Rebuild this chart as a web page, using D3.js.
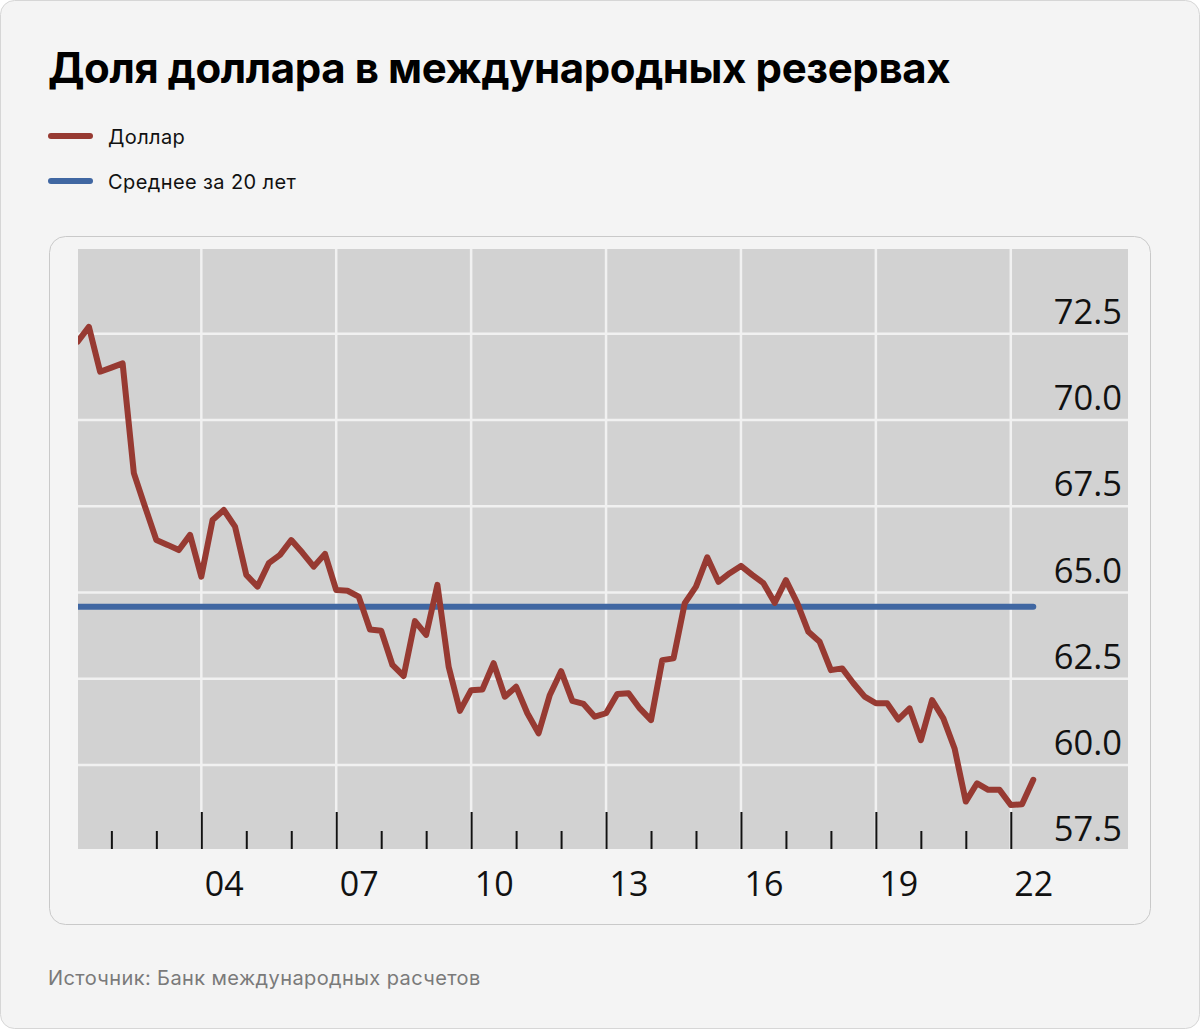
<!DOCTYPE html>
<html lang="ru">
<head>
<meta charset="utf-8">
<script src="https://cdn.jsdelivr.net/npm/d3@7"></script>
<style>
  html, body { margin: 0; padding: 0; background: #ffffff; }
  svg { display: block; }
</style>
</head>
<body>
<svg id="chart" width="1200" height="1029"></svg>
<script>
// ---------- DATA ----------
const title = "Доля доллара в международных резервах";
const seriesNames = ["Доллар", "Среднее за 20 лет"];
const source = "Источник: Банк международных расчетов";

const quarters = [
  "2001Q2","2001Q3","2001Q4",
  "2002Q1","2002Q2","2002Q3","2002Q4",
  "2003Q1","2003Q2","2003Q3","2003Q4",
  "2004Q1","2004Q2","2004Q3","2004Q4",
  "2005Q1","2005Q2","2005Q3","2005Q4",
  "2006Q1","2006Q2","2006Q3","2006Q4",
  "2007Q1","2007Q2","2007Q3","2007Q4",
  "2008Q1","2008Q2","2008Q3","2008Q4",
  "2009Q1","2009Q2","2009Q3","2009Q4",
  "2010Q1","2010Q2","2010Q3","2010Q4",
  "2011Q1","2011Q2","2011Q3","2011Q4",
  "2012Q1","2012Q2","2012Q3","2012Q4",
  "2013Q1","2013Q2","2013Q3","2013Q4",
  "2014Q1","2014Q2","2014Q3","2014Q4",
  "2015Q1","2015Q2","2015Q3","2015Q4",
  "2016Q1","2016Q2","2016Q3","2016Q4",
  "2017Q1","2017Q2","2017Q3","2017Q4",
  "2018Q1","2018Q2","2018Q3","2018Q4",
  "2019Q1","2019Q2","2019Q3","2019Q4",
  "2020Q1","2020Q2","2020Q3","2020Q4",
  "2021Q1","2021Q2","2021Q3","2021Q4",
  "2022Q1","2022Q2","2022Q3"
];

const dollarShare = [
  72.27, 72.70, 71.40, 71.52, 71.64, 68.46, 67.48, 66.52, 66.38, 66.23,
  66.67, 65.46, 67.10, 67.39, 66.91, 65.51, 65.17, 65.85, 66.09, 66.52,
  66.15, 65.75, 66.12, 65.07, 65.05, 64.88, 63.93, 63.89, 62.90, 62.58,
  64.17, 63.77, 65.22, 62.85, 61.57, 62.17, 62.19, 62.95, 61.98, 62.27,
  61.50, 60.92, 62.03, 62.72, 61.86, 61.77, 61.40, 61.50, 62.06, 62.08,
  61.64, 61.30, 63.04, 63.09, 64.69, 65.17, 66.02, 65.31, 65.56, 65.77,
  65.51, 65.27, 64.70, 65.36, 64.70, 63.86, 63.57, 62.75, 62.80, 62.37,
  61.98, 61.79, 61.79, 61.32, 61.64, 60.72, 61.88, 61.35, 60.48, 58.94,
  59.47, 59.28, 59.28, 58.84, 58.86, 59.57
];

const average20y = 64.59;

const yTicks = [57.5, 60.0, 62.5, 65.0, 67.5, 70.0, 72.5];
const yGrid = [60.0, 62.5, 65.0, 67.5, 70.0, 72.5];
const majorYears = [2004, 2007, 2010, 2013, 2016, 2019, 2022];
const minorYears = [2002, 2003, 2005, 2006, 2008, 2009, 2011, 2012, 2014, 2015, 2017, 2018, 2020, 2021];
const xTickLabels = ["04", "07", "10", "13", "16", "19", "22"];

// ---------- LAYOUT ----------
const W = 1200, H = 1029;
const plot = { left: 78, right: 1128, top: 249, bottom: 849 };
const colors = { red: "#973a32", blue: "#4067a2", plotBg: "#d2d2d2", page: "#f4f4f4", grid: "#f1f1f1" };

const svg = d3.select("#chart");

// page background with rounded border
svg.append("rect")
  .attr("x", 0.5).attr("y", 0.5).attr("width", W - 1).attr("height", H - 1)
  .attr("rx", 14).attr("fill", colors.page).attr("stroke", "#d6d6d6");

// title
svg.append("text")
  .attr("x", 48).attr("y", 83)
  .attr("font-family", "Inter, 'Noto Sans', sans-serif")
  .attr("font-weight", 700).attr("font-size", 42)
  .attr("letter-spacing", -0.4)
  .attr("fill", "#000").text(title);

// legend
const legend = svg.append("g");
[[seriesNames[0], colors.red, 136], [seriesNames[1], colors.blue, 181]].forEach(([name, c, y]) => {
  legend.append("line")
    .attr("x1", 51).attr("x2", 90).attr("y1", y).attr("y2", y)
    .attr("stroke", c).attr("stroke-width", 6).attr("stroke-linecap", "round");
  legend.append("text")
    .attr("x", 108).attr("y", y + 8)
    .attr("font-family", "Inter, 'Noto Sans', sans-serif")
    .attr("font-size", 20).attr("letter-spacing", 0.4)
    .attr("fill", "#111").text(name);
});

// card
svg.append("rect")
  .attr("x", 49.5).attr("y", 236.5).attr("width", 1101).attr("height", 688)
  .attr("rx", 16).attr("fill", colors.page).attr("stroke", "#c9c9c9");

// source
svg.append("text")
  .attr("x", 48).attr("y", 985)
  .attr("font-family", "Inter, 'Noto Sans', sans-serif")
  .attr("font-size", 20).attr("letter-spacing", 0.4)
  .attr("fill", "#7a7a7a").text(source);

// ---------- SCALES ----------
const qToYear = q => +q.slice(0, 4) + (+q.slice(5) - 1) / 4;
const x = d3.scaleLinear().domain([2001, 2025]).range([66.4, 1145.7]);
const y = d3.scaleLinear().domain([57.5, 75]).range([851.25, 247.5]);

// plot background
svg.append("rect")
  .attr("x", plot.left).attr("y", plot.top)
  .attr("width", plot.right - plot.left).attr("height", plot.bottom - plot.top)
  .attr("fill", colors.plotBg);

svg.append("clipPath").attr("id", "plotClip")
  .append("rect")
  .attr("x", plot.left).attr("y", plot.top)
  .attr("width", plot.right - plot.left).attr("height", plot.bottom - plot.top);

const g = svg.append("g").attr("clip-path", "url(#plotClip)");

// grid lines
g.selectAll(".hgrid").data(yGrid).join("line")
  .attr("x1", plot.left).attr("x2", plot.right)
  .attr("y1", d => y(d)).attr("y2", d => y(d))
  .attr("stroke", colors.grid).attr("stroke-width", 2.5);
g.selectAll(".vgrid").data(majorYears).join("line")
  .attr("x1", d => x(d)).attr("x2", d => x(d))
  .attr("y1", plot.top).attr("y2", plot.bottom)
  .attr("stroke", colors.grid).attr("stroke-width", 2.5);

// y labels (axis on the right, inside plot)
const yAxis = d3.axisLeft(y).tickValues(yTicks).tickSize(0).tickPadding(0)
  .tickFormat(d3.format(".1f"));
const yAx = svg.append("g").attr("transform", `translate(1122,0)`).call(yAxis);
yAx.select(".domain").remove();
yAx.selectAll("text")
  .attr("dy", -10.5)
  .attr("font-family", "'Open Sans', 'Noto Sans', sans-serif")
  .attr("font-size", 34.5).attr("fill", "#111");

// bottom ticks
const majorAxis = d3.axisTop(x).tickValues(majorYears).tickSize(37).tickFormat("");
const minorAxis = d3.axisTop(x).tickValues(minorYears).tickSize(18).tickFormat("");
[majorAxis, minorAxis].forEach(ax => {
  const a = svg.append("g").attr("transform", `translate(0,${plot.bottom})`).call(ax);
  a.select(".domain").remove();
  a.selectAll("line").attr("stroke", "#111").attr("stroke-width", 2);
});

// x labels centered within each year
const labelAxis = d3.axisBottom(x).tickValues(majorYears.map(d => d + 0.5)).tickSize(0)
  .tickFormat((d, i) => xTickLabels[i]);
const la = svg.append("g").attr("transform", `translate(0,${plot.bottom})`).call(labelAxis);
la.select(".domain").remove();
la.selectAll("text")
  .attr("y", 47).attr("dy", 0)
  .attr("font-family", "'Open Sans', 'Noto Sans', sans-serif")
  .attr("font-size", 34).attr("fill", "#111");

// average line
const avgData = [quarters[0], quarters[quarters.length - 1]];
g.append("path")
  .datum(avgData)
  .attr("d", d3.line().x(q => x(qToYear(q))).y(() => y(average20y)))
  .attr("fill", "none").attr("stroke", colors.blue).attr("stroke-width", 6)
  .attr("stroke-linecap", "round");

// dollar line
const series = quarters.map((q, i) => ({ t: qToYear(q), v: dollarShare[i] }));
g.append("path")
  .datum(series)
  .attr("d", d3.line().x(d => x(d.t)).y(d => y(d.v)))
  .attr("fill", "none").attr("stroke", colors.red).attr("stroke-width", 6)
  .attr("stroke-linejoin", "round").attr("stroke-linecap", "round");
</script>
</body>
</html>
